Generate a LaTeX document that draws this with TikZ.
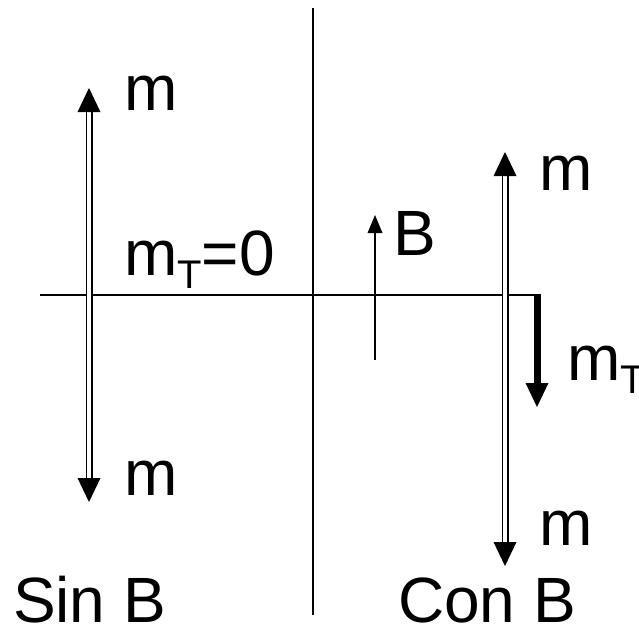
\documentclass[tikz,border=0pt]{standalone}
\usepackage{fontspec}
\setmainfont{Liberation Sans}
\begin{document}
\begin{tikzpicture}[x=1pt,y=-1pt,
  lbl/.style={anchor=base west,inner sep=0pt,outer sep=0pt,font=\fontsize{64}{64}\selectfont},
  dbl/.style={draw=black,line width=1.8pt,double=white,double distance=3.4pt},
  headfill/.style={fill=black}]
\useasboundingbox (0,0) rectangle (639,627);
% axes
\draw[line width=1.6pt] (313,8) -- (313,615);
\draw[line width=1.8pt] (40,295) -- (540,295);
% left double arrow
\coordinate (lt) at (89,88);
\coordinate (lb) at (89,502);
\draw[dbl] (89,111) -- (89,479);
\fill[headfill] (lt) -- (77.5,112) -- (100.5,112) -- cycle;
\fill[headfill] (lb) -- (77.5,478) -- (100.5,478) -- cycle;
% right double arrow
\coordinate (rt) at (505,152);
\coordinate (rb) at (505,566);
\draw[dbl] (505,175) -- (505,543);
\fill[headfill] (rt) -- (493.5,176) -- (516.5,176) -- cycle;
\fill[headfill] (rb) -- (493.5,542) -- (516.5,542) -- cycle;
% mT arrow
\draw[line width=7pt] (537,294) -- (537,385);
\fill[headfill] (537,407) -- (525.5,383) -- (548.5,383) -- cycle;
% B arrow
\draw[line width=1.8pt] (375,360) -- (375,231);
\fill[headfill] (375,215) -- (367.5,233) -- (382.5,233) -- cycle;
% labels
\node[lbl] (m1) at (124,110) {m};
\node[lbl] (m0) at (124,275) {m\raisebox{-13pt}{\fontsize{40}{40}\selectfont T}=0};
\node[lbl] (m2) at (124,495) {m};
\node[lbl] (m3) at (539,190) {m};
\node[lbl] (bb) at (393,255) {B};
\node[lbl] (mt) at (567,380) {m\raisebox{-13pt}{\fontsize{40}{40}\selectfont T}};
\node[lbl] (m4) at (539,545) {m};
\node[lbl] (sin) at (13,622) {Sin B};
\node[lbl] (con) at (398,622) {Con B};
\end{tikzpicture}
\end{document}
